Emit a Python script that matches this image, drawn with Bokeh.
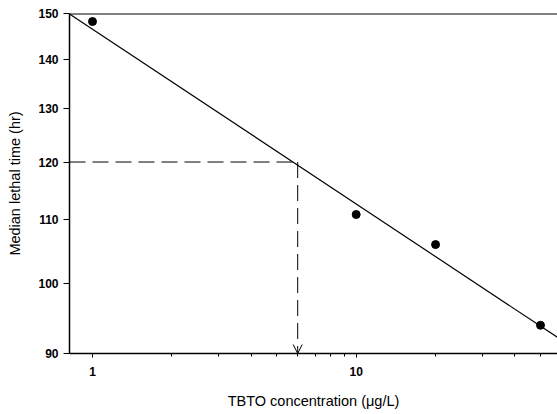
from bokeh.plotting import figure
from bokeh.models import FixedTicker, Span, Arrow, OpenHead
from bokeh.embed import file_html
from bokeh.resources import INLINE

# Data
conc = [1, 10, 20, 50]                 # TBTO concentration (ug/L)
lt50 = [148.2, 110.9, 106.0, 93.9]     # median lethal time (hr)
fit_x = [0.818, 58.0]                  # regression line ends
fit_y = [149.9, 92.2]
ref_conc = 6.0                         # concentration read at LT50 = 120 h
ref_time = 120.0
x_lo, x_hi = 0.818, 58.0
y_lo, y_hi = 90, 150
y_ticks = [90, 100, 110, 120, 130, 140, 150]
x_major = [1, 10]
x_minor = [2, 3, 4, 5, 6, 7, 8, 9, 20, 30, 40, 50]

p = figure(width=557, height=414, x_axis_type="log", y_axis_type="log",
           x_range=(x_lo, x_hi), y_range=(y_lo, y_hi),
           output_backend="svg", toolbar_location=None,
           min_border_left=69, min_border_right=0, min_border_top=13,
           min_border_bottom=61)
p.outline_line_color = None
p.xgrid.visible = False
p.ygrid.visible = False
p.background_fill_color = "white"
p.border_fill_color = "white"

# top border
p.add_layout(Span(location=y_hi, dimension="width", line_color="black", line_width=2))

# fit line
p.line(fit_x, fit_y, line_color="black", line_width=1.2)

# data points
p.scatter(conc, lt50, size=8, color="black")

# dashed reference lines
p.line([x_lo, ref_conc], [ref_time, ref_time], line_color="black",
       line_width=1, line_dash="16 7")
p.add_layout(Arrow(end=OpenHead(size=9, line_width=1, line_color="black"),
                   x_start=ref_conc, y_start=ref_time, x_end=ref_conc, y_end=y_lo,
                   line_color="black", line_width=1, line_dash="16 7"))

font = "Liberation Sans"
for ax in (p.xaxis[0], p.yaxis[0]):
    ax.axis_line_color = "black"
    ax.axis_line_width = 1.5
    ax.major_tick_line_color = "black"
    ax.minor_tick_line_color = "black"
    ax.major_tick_in = 0
    ax.minor_tick_in = 0
    ax.major_label_text_font = font
    ax.major_label_text_font_style = "bold"
    ax.major_label_text_font_size = "12px"
    ax.major_label_text_color = "black"
    ax.axis_label_text_font = font
    ax.axis_label_text_font_style = "normal"
    ax.axis_label_text_font_size = "14.5px"
    ax.axis_label_text_color = "black"

p.xaxis.ticker = FixedTicker(ticks=x_major, minor_ticks=x_minor)
p.xaxis.major_label_overrides = {1: "1", 10: "10"}
p.xaxis.major_tick_out = 4
p.xaxis.minor_tick_out = 3
p.xaxis.major_label_standoff = 9
p.xaxis.axis_label = "TBTO concentration (\u03bcg/L)"
p.xaxis.axis_label_standoff = 14

p.yaxis.ticker = FixedTicker(ticks=y_ticks, minor_ticks=[])
p.yaxis.major_label_overrides = {v: str(v) for v in y_ticks}
p.yaxis.major_tick_out = 6
p.yaxis.minor_tick_out = 0
p.yaxis.major_label_standoff = 5
p.yaxis.axis_label = "Median lethal time (hr)"
p.yaxis.axis_label_standoff = 12

open("out.html", "w").write(file_html(p, INLINE))
